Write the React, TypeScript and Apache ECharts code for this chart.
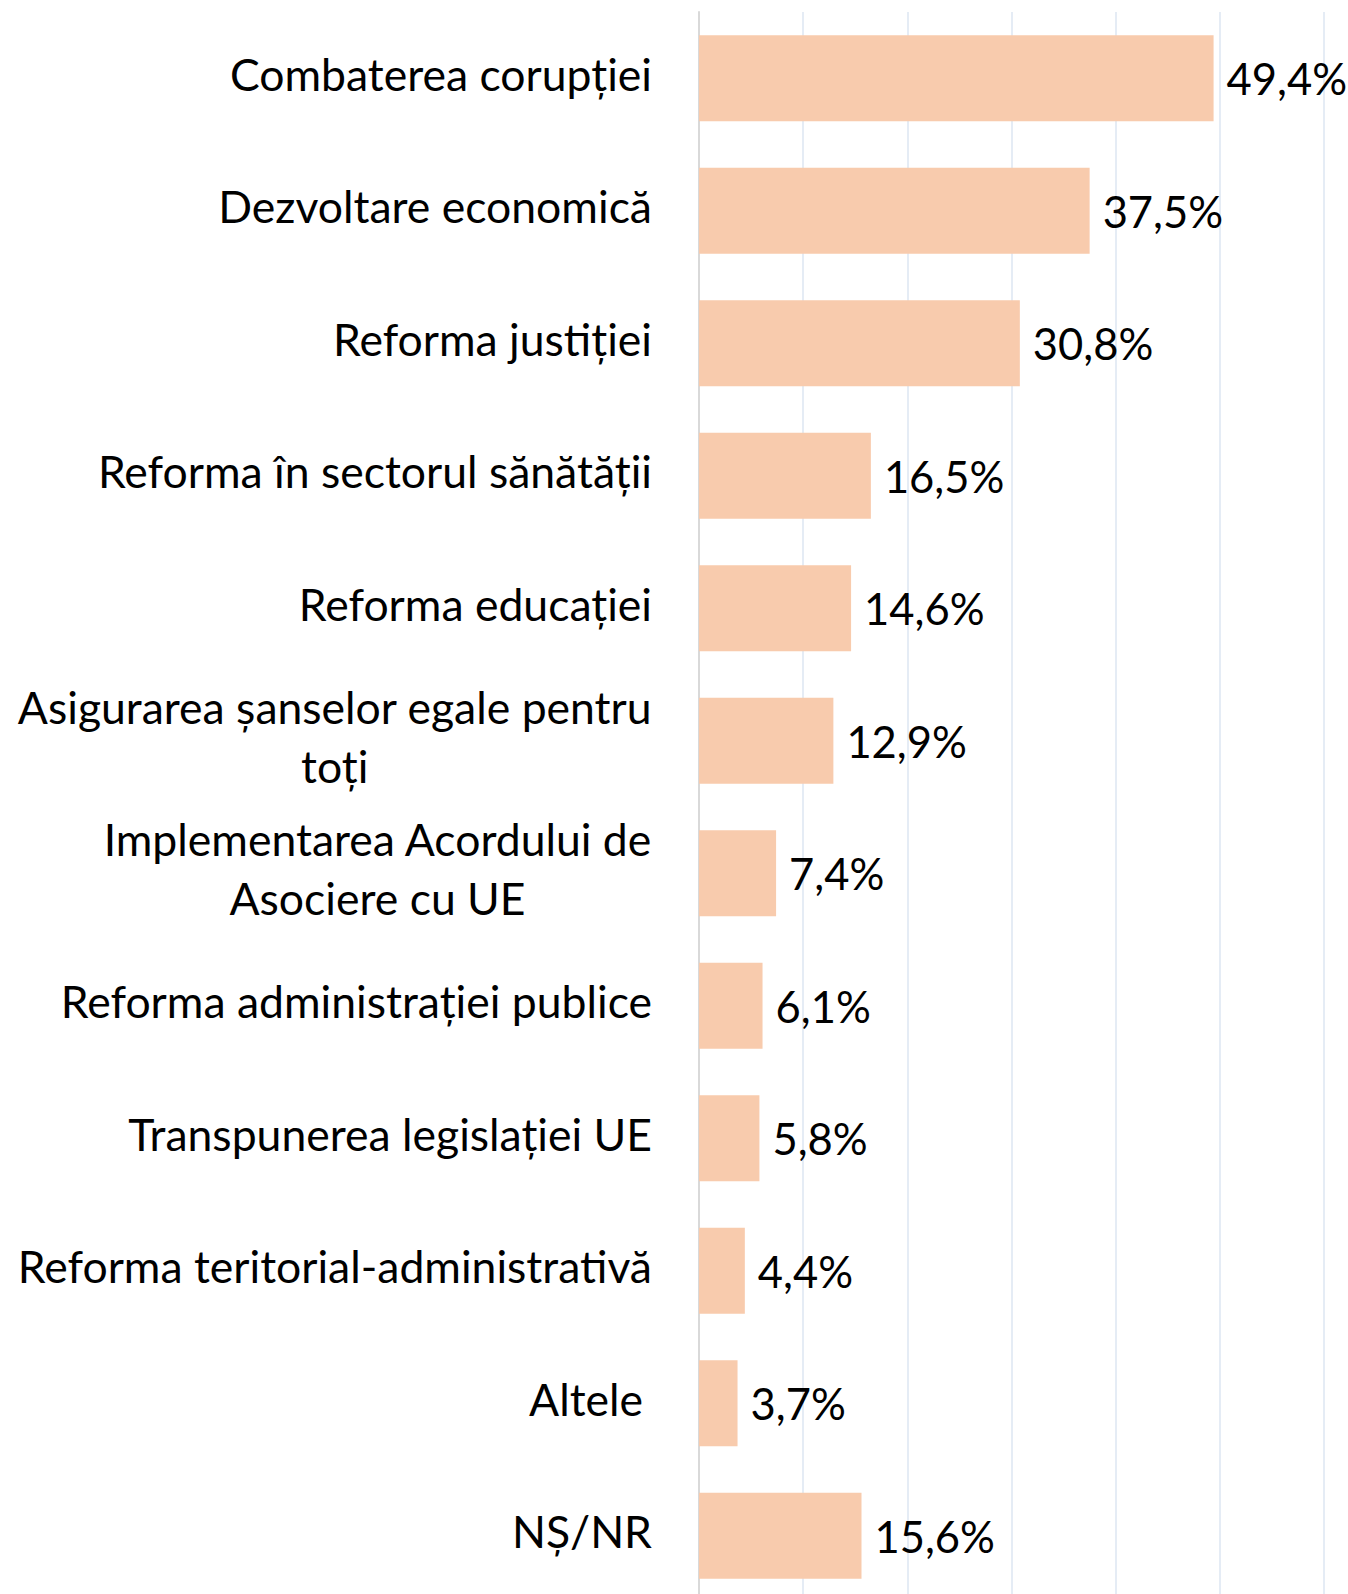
import React, { useEffect, useRef } from "react";
import * as echarts from "echarts";

const categories: string[] = [
  "Combaterea corupției",
  "Dezvoltare economică",
  "Reforma justiției",
  "Reforma în sectorul sănătății",
  "Reforma educației",
  "Asigurarea șanselor egale pentru\ntoți",
  "Implementarea Acordului de\nAsociere cu UE",
  "Reforma administrației publice",
  "Transpunerea legislației UE",
  "Reforma teritorial-administrativă",
  "Altele",
  "NȘ/NR",
];

const values: number[] = [49.4, 37.5, 30.8, 16.5, 14.6, 12.9, 7.4, 6.1, 5.8, 4.4, 3.7, 15.6];

const FONT = "Lato";
const CAT_SIZE = 44.5;
const VAL_SIZE = 43.5;

export default function App() {
  const ref = useRef<HTMLDivElement>(null);

  useEffect(() => {
    if (!ref.current) return;
    const chart = echarts.init(ref.current, null, { renderer: "svg" });
    chart.setOption({
      animation: false,
      backgroundColor: "#ffffff",
      grid: { left: 699, right: 24, top: 12, bottom: 0, containLabel: false },
      xAxis: {
        type: "value",
        min: 0,
        max: 60,
        interval: 10,
        axisLabel: { show: false },
        axisLine: { show: false },
        axisTick: { show: false },
        splitLine: { show: true, lineStyle: { color: "#dce6f2", width: 1.5 } },
      },
      yAxis: {
        type: "category",
        data: categories,
        inverse: true,
        axisLine: { show: true, lineStyle: { color: "#d9d9d9", width: 2 } },
        axisTick: { show: false },
        axisLabel: {
          margin: 47,
          color: "#000000",
          fontFamily: FONT,
          fontSize: CAT_SIZE,
          lineHeight: 59,
          padding: [0, 0, 10, 0],
          formatter: (v: string) => {
            if (v.indexOf("\n") >= 0) {
              return v
                .split("\n")
                .map((l) => `{c|${l}}`)
                .join("\n");
            }
            if (v === "Altele") return `{alt|${v}}`;
            return v;
          },
          rich: {
            c: {
              align: "center",
              fontFamily: FONT,
              fontSize: CAT_SIZE,
              lineHeight: 59,
              color: "#000000",
            },
            alt: {
              fontFamily: FONT,
              fontSize: CAT_SIZE,
              color: "#000000",
              padding: [0, 9, 0, 0],
            },
          },
        },
      },
      series: [
        {
          type: "bar",
          data: values,
          barCategoryGap: "35%",
          itemStyle: { color: "#f8cbad" },
          label: {
            show: true,
            position: "right",
            distance: 13,
            color: "#000000",
            fontFamily: FONT,
            fontSize: VAL_SIZE,
            padding: [0, 0, 2, 0],
            formatter: (p: any) => `${Number(p.value).toFixed(1).replace(".", ",")}%`,
          },
        },
      ],
    });
    return () => chart.dispose();
  }, []);

  return (
    <div
      style={{
        position: "absolute",
        left: 0,
        top: 0,
        width: 1348,
        height: 1594,
        overflow: "hidden",
        background: "#ffffff",
      }}
    >
      <div ref={ref} style={{ width: 1348, height: 1602 }} />
    </div>
  );
}
